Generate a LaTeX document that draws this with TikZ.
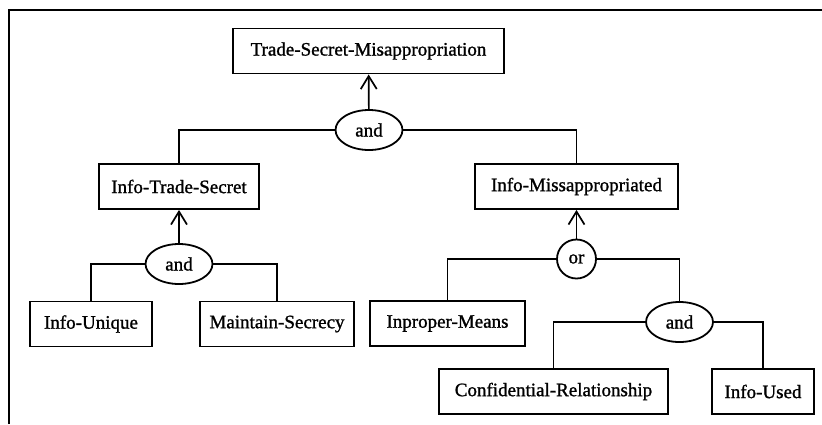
\documentclass[tikz,border=0pt]{standalone}
\usepackage{fontspec}
\setmainfont{Liberation Serif}[FakeBold=1.2]
\usetikzlibrary{arrows.meta,shapes.geometric}
\begin{document}
\begin{tikzpicture}[x=1pt,y=-1pt]
\tikzstyle{concept}=[draw,line width=1.9pt,inner sep=0pt,minimum height=45pt,font=\fontsize{19}{23}\selectfont]
\tikzstyle{andnode}=[draw,ellipse,line width=1.8pt,inner sep=0pt,minimum width=67pt,minimum height=40pt,font=\fontsize{19}{23}\selectfont]
\tikzstyle{ornode}=[draw,circle,line width=1.8pt,inner sep=0pt,minimum size=39pt,font=\fontsize{19}{23}\selectfont]
\tikzstyle{link}=[line width=1.7pt]
\tikzstyle{up}=[line width=1.7pt,-{Straight Barb[length=13pt,width=16pt,line width=1.7pt]}]
\useasboundingbox (0,0) rectangle (822,424);
\draw[line width=2.2pt] (9,424) -- (9,10) -- (822,10);
\node[concept,minimum width=271pt] (tsm) at (368.5,51) {Trade-Secret-Misappropriation};
\node[andnode] (and1) at (369,130) {and};
\node[concept,minimum width=160pt] (its) at (179,186.5) {Info-Trade-Secret};
\node[concept,minimum width=203pt] (im) at (576.5,186.5) {Info-Missappropriated};
\node[andnode] (and2) at (179,264) {and};
\node[concept,minimum width=122pt] (iu) at (91,324) {Info-Unique};
\node[concept,minimum width=154pt] (ms) at (277,324) {Maintain-Secrecy};
\node[ornode] (or1) at (576.5,259) {or};
\node[concept,minimum width=155pt] (ipm) at (447.5,323.5) {Inproper-Means};
\node[andnode] (and3) at (679.5,322) {and};
\node[concept,minimum width=229pt] (cr) at (553.5,391.5) {Confidential-Relationship};
\node[concept,minimum width=102pt] (used) at (763,391.5) {Info-Used};
\draw[up] (and1) -- (tsm);
\draw[link] (and1.west) -| (its.north);
\draw[link] (and1.east) -| (im.north);
\draw[up] (and2) -- (its);
\draw[link] (and2.west) -| (iu.north);
\draw[link] (and2.east) -| (ms.north);
\draw[up] (or1) -- (im);
\draw[link] (or1.west) -| (ipm.north);
\draw[link] (or1.east) -| (and3.north);
\draw[link] (and3.west) -| (cr.north);
\draw[link] (and3.east) -| (used.north);
\end{tikzpicture}
\end{document}
